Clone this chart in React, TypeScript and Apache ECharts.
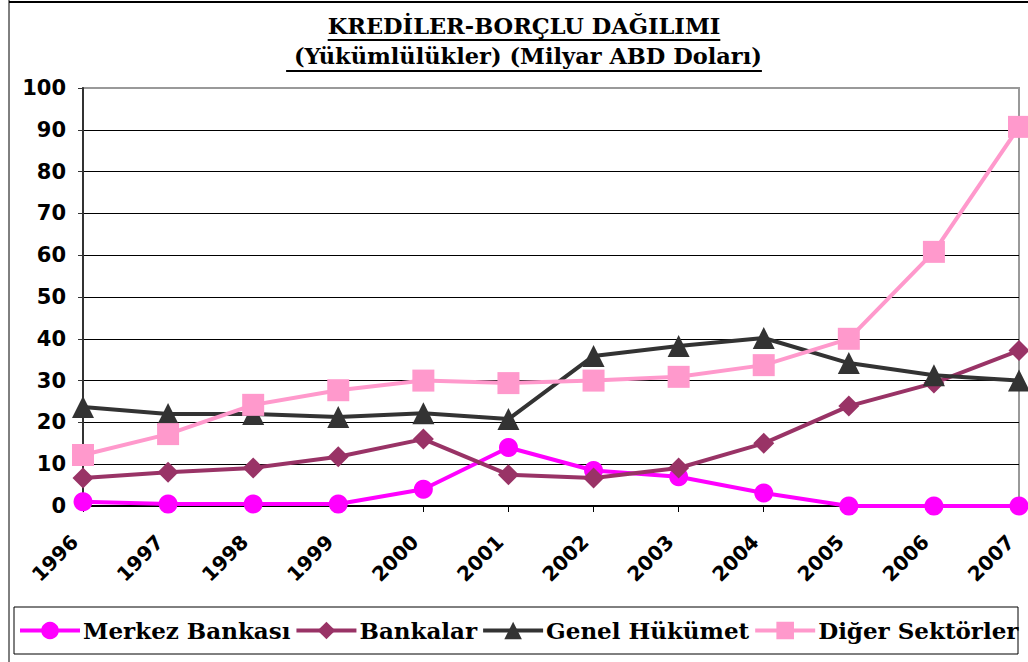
import React, { useEffect, useRef } from "react";
import * as echarts from "echarts";

const years = ["1996", "1997", "1998", "1999", "2000", "2001", "2002", "2003", "2004", "2005", "2006", "2007"];
const merkezBankasi = [1.0, 0.5, 0.5, 0.5, 4.0, 14.0, 8.5, 7.0, 3.1, 0, 0, 0];
const bankalar = [6.7, 8.1, 9.1, 11.8, 16.0, 7.5, 6.7, 9.1, 15.0, 23.9, 29.4, 37.2];
const genelHukumet = [23.7, 22.0, 22.0, 21.3, 22.2, 20.8, 35.9, 38.3, 40.2, 34.2, 31.3, 30.0];
const digerSektorler = [12.2, 17.2, 24.2, 27.7, 30.0, 29.4, 30.0, 30.9, 33.7, 40.0, 60.8, 90.7];

const titleLine1 = "KREDİLER-BORÇLU DAĞILIMI";
const titleLine2 = " (Yükümlülükler) (Milyar ABD Doları)";

const serifFont = "'DejaVu Serif', serif";
const sansFont = "'DejaVu Sans', Verdana, sans-serif";

function measure(text: string, font: string): number {
  const c = document.createElement("canvas");
  const ctx = c.getContext("2d");
  if (!ctx) return text.length * 12;
  ctx.font = font;
  return ctx.measureText(text).width;
}

export default function App() {
  const ref = useRef<HTMLDivElement>(null);
  useEffect(() => {
    if (!ref.current) return;
    const chart = echarts.init(ref.current, undefined, { renderer: "svg" });
    const titleSize = 22.5;
    const tFont = `bold ${titleSize}px ${serifFont}`;
    const w1 = measure(titleLine1, tFont);
    const w2 = measure(titleLine2, tFont);
    const cx = 524;
    const y1 = 37;
    const y2 = 67;

    const mk = (name: string, data: number[], color: string, symbol: string, size: number) => ({
      name,
      type: "line",
      data,
      symbol,
      symbolSize: size,
      showSymbol: true,
      lineStyle: { color, width: 4 },
      itemStyle: { color },
      emphasis: { disabled: true },
    });

    const gridColors = ["#000", "#000", "#000", "#000", "#000", "#000", "#000", "#000", "#000", "#000", "#999"];

    chart.setOption({
      animation: false,
      backgroundColor: "#fff",
      grid: {
        left: 83,
        right: 9,
        top: 88,
        bottom: 156,
        show: true,
        borderColor: "#999",
        borderWidth: 2,
        backgroundColor: "transparent",
      },
      xAxis: {
        type: "category",
        data: years,
        boundaryGap: false,
        axisLine: { show: true, lineStyle: { color: "#000", width: 2 } },
        axisTick: { show: true, length: 6, lineStyle: { color: "#000", width: 1 } },
        axisLabel: {
          rotate: 45,
          margin: 24,
          padding: [0, 12, 0, 0],
          fontFamily: sansFont,
          fontWeight: "bold",
          fontSize: 20,
          color: "#000",
          interval: 0,
        },
        splitLine: { show: false },
      },
      yAxis: {
        type: "value",
        min: 0,
        max: 100,
        interval: 10,
        axisLine: { show: true, lineStyle: { color: "#333", width: 2 } },
        axisTick: { show: true, length: 5, lineStyle: { color: "#333" } },
        axisLabel: {
          margin: 17,
          fontFamily: sansFont,
          fontWeight: "bold",
          fontSize: 21,
          color: "#000",
        },
        splitLine: { show: true, lineStyle: { color: gridColors, width: 1 } },
      },
      legend: {
        left: 18,
        top: 619,
        width: 1010,
        padding: 0,
        itemWidth: 60,
        itemHeight: 22,
        itemGap: 4,
        lineStyle: { width: 4 },
        textStyle: { fontFamily: serifFont, fontWeight: "bold", fontSize: 23, color: "#000", padding: [0, 0, 0, -2] },
        data: ["Merkez Bankası", "Bankalar", "Genel Hükümet", "Diğer Sektörler"],
      },
      graphic: [
        { type: "line", shape: { x1: 9, y1: 0, x2: 9, y2: 662 }, style: { stroke: "#000", lineWidth: 1 }, silent: true },
        { type: "line", shape: { x1: 9, y1: 2, x2: 1028, y2: 2 }, style: { stroke: "#000", lineWidth: 2 }, silent: true },
        { type: "rect", shape: { x: 14, y: 607, width: 1004, height: 47 }, style: { fill: "none", stroke: "#000", lineWidth: 1 }, silent: true },
        {
          type: "text",
          x: cx,
          y: y1,
          style: { text: titleLine1, font: tFont, fill: "#000", align: "center", verticalAlign: "bottom" },
          silent: true,
        },
        { type: "line", shape: { x1: cx - w1 / 2, y1: y1 + 3, x2: cx + w1 / 2, y2: y1 + 3 }, style: { stroke: "#000", lineWidth: 2 }, silent: true },
        {
          type: "text",
          x: cx,
          y: y2,
          style: { text: titleLine2, font: tFont, fill: "#000", align: "center", verticalAlign: "bottom" },
          silent: true,
        },
        { type: "line", shape: { x1: cx - w2 / 2, y1: y2 + 4, x2: cx + w2 / 2, y2: y2 + 4 }, style: { stroke: "#000", lineWidth: 2 }, silent: true },
      ],
      series: [
        mk("Merkez Bankası", merkezBankasi, "#FF00FF", "circle", 19),
        mk("Bankalar", bankalar, "#993366", "diamond", 21),
        mk("Genel Hükümet", genelHukumet, "#333333", "triangle", 22),
        mk("Diğer Sektörler", digerSektorler, "#FF99CC", "rect", 22),
      ],
    });
    return () => chart.dispose();
  }, []);
  return <div ref={ref} style={{ width: 1028, height: 662, position: "absolute", left: 0, top: 0 }} />;
}
